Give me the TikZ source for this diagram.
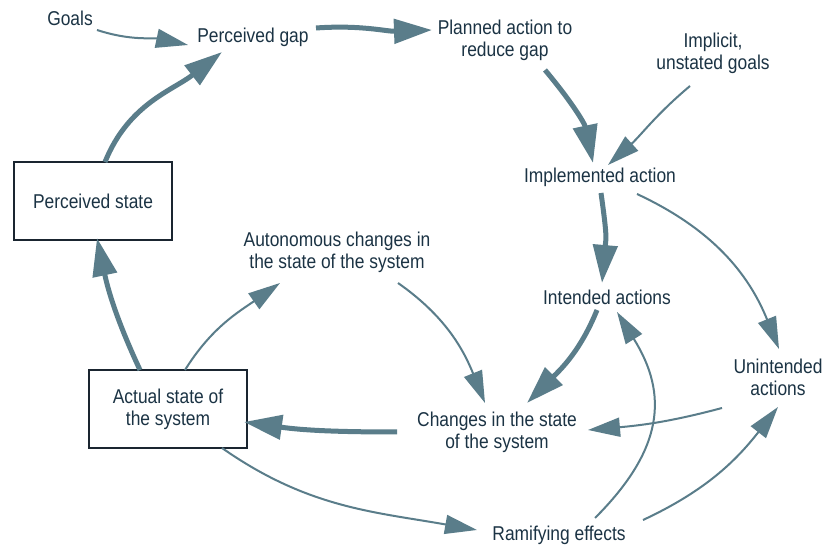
\documentclass[tikz,border=0pt]{standalone}
\usepackage{fontspec}
\setmainfont{Liberation Sans}[FakeStretch=0.87]
\usetikzlibrary{arrows.meta,calc}
\definecolor{txt}{HTML}{1B3344}
\definecolor{arr}{HTML}{5A7D8A}
\definecolor{boxc}{HTML}{1A2530}
\begin{document}
\begin{tikzpicture}[x=1pt,y=1pt,
  lbl/.style={text=txt,align=center,inner sep=0pt,font=\fontsize{20}{22}\selectfont},
  statebox/.style={lbl,draw=boxc,line width=2pt,minimum width=158pt,minimum height=78pt},
  thickarr/.style={draw=arr,line width=5pt,-{Triangle[length=38pt,width=24pt]}},
  thinarr/.style={draw=arr,line width=2pt,-{Triangle[length=32pt,width=19pt]}},
]
\fill[white] (0,0) rectangle (830,548);
\useasboundingbox (0,0) rectangle (830,548);

\node[lbl] (goals) at (70,530) {Goals};
\node[lbl] (gap) at (253,511) {Perceived gap};
\node[lbl] (plan) at (505,508) {Planned action to\\reduce gap};
\node[lbl] (implicit) at (713,495) {Implicit,\\unstated goals};
\node[lbl] (impl) at (600,371) {Implemented action};
\node[statebox] (ps) at (93,347) {Perceived state};
\node[statebox] (as) at (168,139) {Actual state of\\the system};
\node[lbl] (auto) at (337,296) {Autonomous changes in\\the state of the system};
\node[lbl] (intended) at (607,251) {Intended actions};
\node[lbl] (unint) at (778,171) {Unintended\\actions};
\node[lbl] (changes) at (497,116) {Changes in the state\\of the system};
\node[lbl] (ramify) at (559,13) {Ramifying effects};

% thick arrows
\draw[thickarr] ($(ps)+(12,39)$) to[out=68,in=218] ($(gap)+(-31,-15)$);
\draw[thickarr] ($(gap)+(63,9)$) to[out=4,in=182] ($(plan)+(-73,10)$);
\draw[thickarr] ($(plan)+(40,-30)$) to[out=-50,in=102] ($(impl)+(-7,14)$);
\draw[thickarr] ($(impl)+(1,-16)$) to[out=-82,in=85,looseness=1.3] ($(intended)+(-5,14)$);
\draw[thickarr] ($(intended)+(-10,-13)$) to[out=-112,in=45] ($(changes)+(30,29)$);
\draw[thickarr] ($(changes)+(-100,0)$) to[out=180,in=-8] ($(as)+(76,-13)$);
\draw[thickarr] ($(as)+(-28,39)$) to[out=115,in=-78] ($(ps)+(4,-37)$);

% thin arrows
\draw[thinarr] ($(goals)+(27,-12)$) to[out=-18,in=168] ($(gap)+(-65,-8)$);
\draw[thinarr] ($(implicit)+(-23,-33)$) to[out=-140,in=42] ($(impl)+(8,12)$);
\draw[thinarr] ($(impl)+(37,-17)$) to[out=-25,in=112] ($(unint)+(1,28)$);
\draw[thinarr] ($(as)+(17,39)$) to[out=58,in=215] ($(auto)+(-57,-31)$);
\draw[thinarr] ($(auto)+(61,-31)$) to[out=-35,in=112] ($(changes)+(-12,29)$);
\draw[thinarr] ($(unint)+(-56,-31)$) to[out=195,in=5] ($(changes)+(91,2)$);
\draw[thinarr] ($(ramify)+(36,17)$) to[out=45,in=-58,looseness=1.2] ($(intended)+(10,-15)$);
\draw[thinarr] ($(ramify)+(84,15)$) to[out=25,in=232] ($(unint)+(0,-30)$);
\draw[thinarr] ($(as)+(54,-39)$) to[out=-35,in=170] ($(ramify)+(-82,5)$);
\end{tikzpicture}
\end{document}
